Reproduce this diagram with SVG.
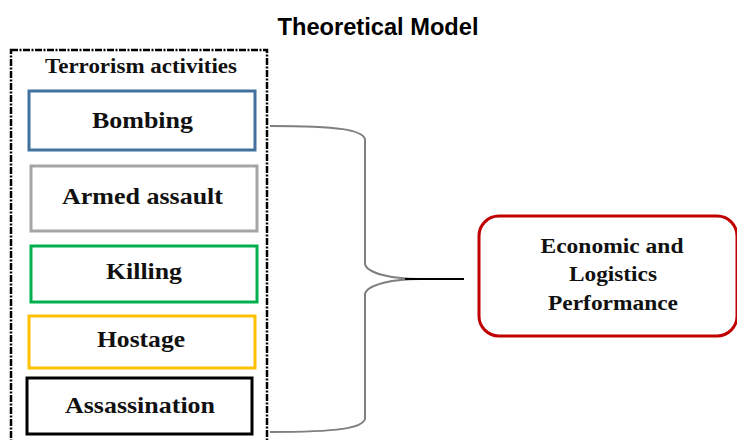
<svg xmlns="http://www.w3.org/2000/svg" width="737" height="440" viewBox="0 0 737 440">
<style>
.t{font-family:"Liberation Serif","Times New Roman",serif;font-weight:bold;fill:#111;text-anchor:middle}
.box{fill:#fff;stroke-width:3}
</style>
<rect width="737" height="440" fill="#fff"/>
<text x="378" y="35" font-family="Liberation Sans, Arial, sans-serif" font-weight="bold" font-size="23" text-anchor="middle" textLength="201" lengthAdjust="spacingAndGlyphs">Theoretical Model</text>
<g id="container">
<rect x="11" y="50" width="256" height="400" fill="none" stroke="#000" stroke-width="2.5" stroke-dasharray="7 1.5 2 1.5"/>
<text class="t" x="141" y="73" font-size="20" textLength="192" lengthAdjust="spacingAndGlyphs">Terrorism activities</text>
</g>
<g id="bombing">
<rect class="box" x="29" y="91" width="226" height="59" stroke="#41719C"/>
<text class="t" x="142.5" y="128" font-size="24" textLength="101" lengthAdjust="spacingAndGlyphs">Bombing</text>
</g>
<g id="armed-assault">
<rect class="box" x="31" y="166" width="226" height="65" stroke="#A5A5A5"/>
<text class="t" x="142.5" y="204" font-size="24" textLength="161" lengthAdjust="spacingAndGlyphs">Armed assault</text>
</g>
<g id="killing">
<rect class="box" x="31" y="246" width="226" height="56" stroke="#00B050"/>
<text class="t" x="144" y="279" font-size="24" textLength="76" lengthAdjust="spacingAndGlyphs">Killing</text>
</g>
<g id="hostage">
<rect class="box" x="29" y="316" width="226" height="52" stroke="#FFC000"/>
<text class="t" x="141" y="347" font-size="24" textLength="88" lengthAdjust="spacingAndGlyphs">Hostage</text>
</g>
<g id="assassination">
<rect class="box" x="27" y="378" width="225" height="56" stroke="#000"/>
<text class="t" x="140" y="413" font-size="24" textLength="150" lengthAdjust="spacingAndGlyphs">Assassination</text>
</g>
<g id="performance">
<rect x="479" y="216" width="258" height="120" rx="20" fill="#fff" stroke="#C00000" stroke-width="3"/>
<text class="t" x="612" y="253" font-size="20" textLength="143" lengthAdjust="spacingAndGlyphs">Economic and</text>
<text class="t" x="613" y="281" font-size="20" textLength="88" lengthAdjust="spacingAndGlyphs">Logistics</text>
<text class="t" x="613" y="310" font-size="20" textLength="130" lengthAdjust="spacingAndGlyphs">Performance</text>
</g>
<g id="connectors" fill="none">
<path d="M270,126 C340,126 362,130 365,139 L365,264 C367,274 395,279 420,279" stroke="#7f7f7f" stroke-width="2"/>
<path d="M420,279 C395,279 367,284 365,294 L365,419 C362,428 340,432 270,432" stroke="#7f7f7f" stroke-width="2"/>
<path d="M405,279 L464,279" stroke="#000" stroke-width="2.2"/>
</g>
</svg>
